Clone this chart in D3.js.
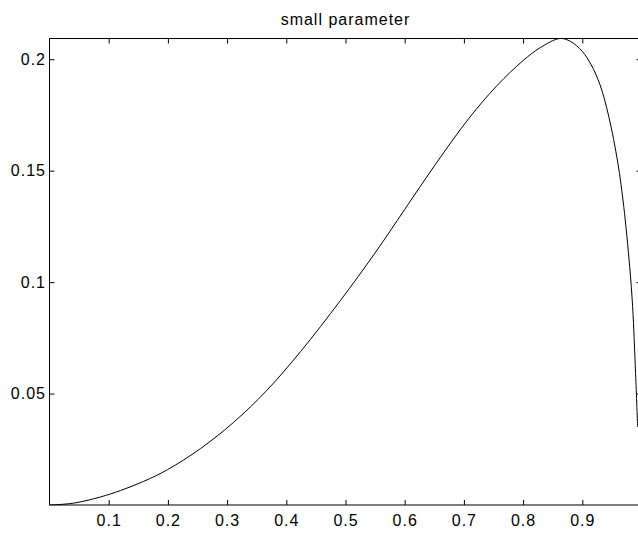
<!DOCTYPE html>
<html>
<head>
<meta charset="utf-8">
<script src="https://cdn.jsdelivr.net/npm/d3@7"></script>
<style>
  html, body { margin: 0; padding: 0; background: #fff; }
  text { font-family: "Liberation Sans", Arial, Helvetica, sans-serif; fill: #000; }
</style>
</head>
<body>
<svg id="chart" width="638" height="538"></svg>
<script>
// values
const xs = [0, 0.04, 0.086, 0.12, 0.159, 0.199, 0.255, 0.311, 0.367, 0.424, 0.491, 0.55, 0.6, 0.65,
            0.708, 0.756, 0.8, 0.829, 0.862, 0.88, 0.9, 0.915, 0.93, 0.945, 0.96, 0.97, 0.98, 0.985, 0.99, 0.9935];
const ys = [0, 0.0008, 0.0036, 0.0065, 0.0106, 0.0158, 0.0253, 0.0371, 0.0514, 0.0688, 0.0916, 0.1131, 0.1326, 0.1521,
            0.1733, 0.1882, 0.1994, 0.2052, 0.2093, 0.208, 0.2035, 0.1975, 0.1885, 0.174, 0.1535, 0.134, 0.107, 0.089, 0.059, 0.035];
const xTicks = [0.1, 0.2, 0.3, 0.4, 0.5, 0.6, 0.7, 0.8, 0.9];
const yTicks = [0.05, 0.1, 0.15, 0.2];
const title = 'small parameter';

const svg = d3.select('#chart');
const L = 49.5, T = 38.5, R = 641.5, B = 505;
const x = d3.scaleLinear().domain([0, 1]).range([L, R]);
const y = d3.scaleLinear().domain([0, d3.max(ys)]).range([B, T]);
const tk = 5;

svg.append('clipPath').attr('id', 'plotClip')
  .append('rect').attr('x', L).attr('y', T - 0.5).attr('width', R - L).attr('height', B - T + 1);

const g = svg.append('g');

// curve
const pts = xs.map((v, i) => [v, ys[i]]);
g.append('path')
  .datum(pts)
  .attr('clip-path', 'url(#plotClip)')
  .attr('fill', 'none')
  .attr('stroke', '#000')
  .attr('stroke-width', 1)
  .attr('d', d3.line().x(d => x(d[0])).y(d => y(d[1])).curve(d3.curveCatmullRom.alpha(0.5)));

// box
g.append('rect')
  .attr('x', L).attr('y', T).attr('width', R - L).attr('height', B - T)
  .attr('fill', 'none').attr('stroke', '#000').attr('stroke-width', 1);

// axes, ticks pointing inward on all four sides
const fmt = d => String(d);
g.append('g').attr('transform', 'translate(0,' + B + ')')
  .call(d3.axisBottom(x).tickValues(xTicks).tickSize(-tk).tickPadding(10).tickFormat(fmt))
  .call(a => a.select('.domain').remove());
g.append('g').attr('transform', 'translate(0,' + T + ')')
  .call(d3.axisTop(x).tickValues(xTicks).tickSize(-tk).tickFormat(''))
  .call(a => a.select('.domain').remove());
g.append('g').attr('transform', 'translate(' + L + ',0)')
  .call(d3.axisLeft(y).tickValues(yTicks).tickSize(-tk).tickPadding(3.5).tickFormat(fmt))
  .call(a => a.select('.domain').remove());
g.append('g').attr('transform', 'translate(' + R + ',0)')
  .call(d3.axisRight(y).tickValues(yTicks).tickSize(-tk).tickFormat(''))
  .call(a => a.select('.domain').remove());

g.selectAll('.tick text').attr('font-size', 16).attr('fill', '#000')
  .attr('letter-spacing', 1)
  .style('font-family', '"Liberation Sans", Arial, sans-serif');
g.selectAll('.tick line').attr('stroke', '#000');

svg.append('text')
  .attr('x', (L + R) / 2).attr('y', 25)
  .attr('text-anchor', 'middle')
  .attr('font-size', 16)
  .attr('letter-spacing', 1)
  .text(title);
</script>
</body>
</html>
